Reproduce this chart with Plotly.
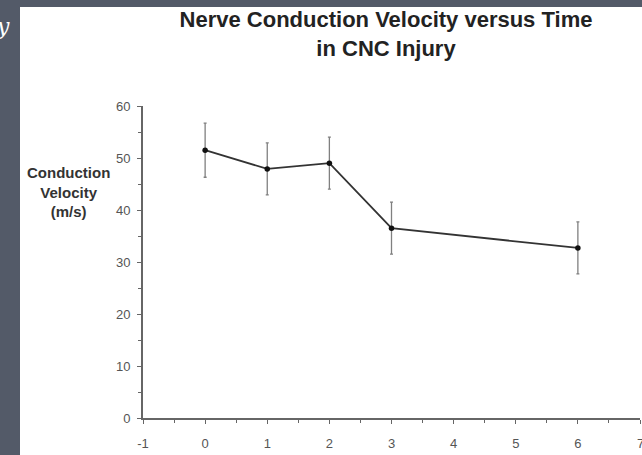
import plotly.graph_objects as go

time_points = [0, 1, 2, 3, 6]
velocity = [51.5, 47.9, 49.0, 36.5, 32.7]
error = [5.2, 5.0, 5.0, 5.0, 5.0]
x_ticks = [-1, 0, 1, 2, 3, 4, 5, 6, 7]
x_tick_labels = ["-1", "0", "1", "2", "3", "4", "5", "6", "7"]
y_ticks = [0, 10, 20, 30, 40, 50, 60]

W, H = 642, 455
L, R, T, B = 143, 2, 106, 37
pw, ph = W - L - R, H - T - B

def px_x(p):
    return (p - L) / pw

def px_y(p):
    return (H - B - p) / ph

tick_font = dict(family="Liberation Sans", size=13, color="#555555")

fig = go.Figure()
fig.add_trace(go.Scatter(
    x=time_points, y=velocity, mode="lines+markers",
    line=dict(color="#333333", width=1.8),
    marker=dict(color="#111111", size=5.5),
    error_y=dict(type="data", array=error, visible=True, color="#808080", thickness=1.3, width=1.5),
    showlegend=False,
))

fig.add_shape(type="rect", xref="paper", yref="paper",
              x0=px_x(20), x1=px_x(W + 5), y0=px_y(H + 5), y1=px_y(7),
              fillcolor="white", line=dict(width=0), layer="below")

fig.add_annotation(text="<i>y</i>", xref="paper", yref="paper", x=px_x(12), y=px_y(26),
                   xanchor="right", yanchor="middle", showarrow=False,
                   font=dict(family="DejaVu Serif", size=22, color="white"))

fig.add_annotation(text="<b>Conduction<br>Velocity<br>(m/s)</b>", xref="paper", yref="paper",
                   x=px_x(68), y=px_y(192), xanchor="center", yanchor="middle", showarrow=False,
                   align="center", font=dict(family="Liberation Sans", size=15, color="#333333"))

# last x tick label sits at the right edge (partly cut, as in the reference)
fig.add_annotation(text=x_tick_labels[-1], xref="x", yref="paper", x=x_ticks[-1], y=px_y(443),
                   xanchor="center", yanchor="middle", showarrow=False, font=tick_font)

fig.update_layout(
    width=W, height=H,
    margin=dict(l=L, r=R, t=T, b=B),
    paper_bgcolor="#535a68",
    plot_bgcolor="white",
    title=dict(text="<b>Nerve Conduction Velocity versus Time<br>in CNC Injury</b>",
               x=386 / W, xanchor="center", y=1 - 27 / H, yanchor="middle",
               font=dict(family="Liberation Sans", size=22, color="#222222")),
    xaxis=dict(range=[-1, 7], tickvals=x_ticks, ticktext=x_tick_labels,
               showgrid=False, zeroline=False,
               showline=True, linecolor="#666666", linewidth=1.8,
               ticks="outside", ticklen=4, tickcolor="#666666", tickwidth=1.2,
               minor=dict(dtick=0.5, ticks="outside", ticklen=3, tickcolor="#666666"),
               ticklabelstandoff=8, tickfont=tick_font),
    yaxis=dict(range=[0, 60], tickvals=y_ticks, showgrid=False, zeroline=False,
               showline=True, linecolor="#666666", linewidth=1.8,
               ticks="outside", ticklen=4, tickcolor="#666666", tickwidth=1.2,
               minor=dict(dtick=5, ticks="outside", ticklen=3, tickcolor="#666666"),
               ticklabelstandoff=4, tickfont=tick_font),
)

fig.write_html("out.html", config={"displayModeBar": False},
               post_script="document.body.style.margin='0';")
